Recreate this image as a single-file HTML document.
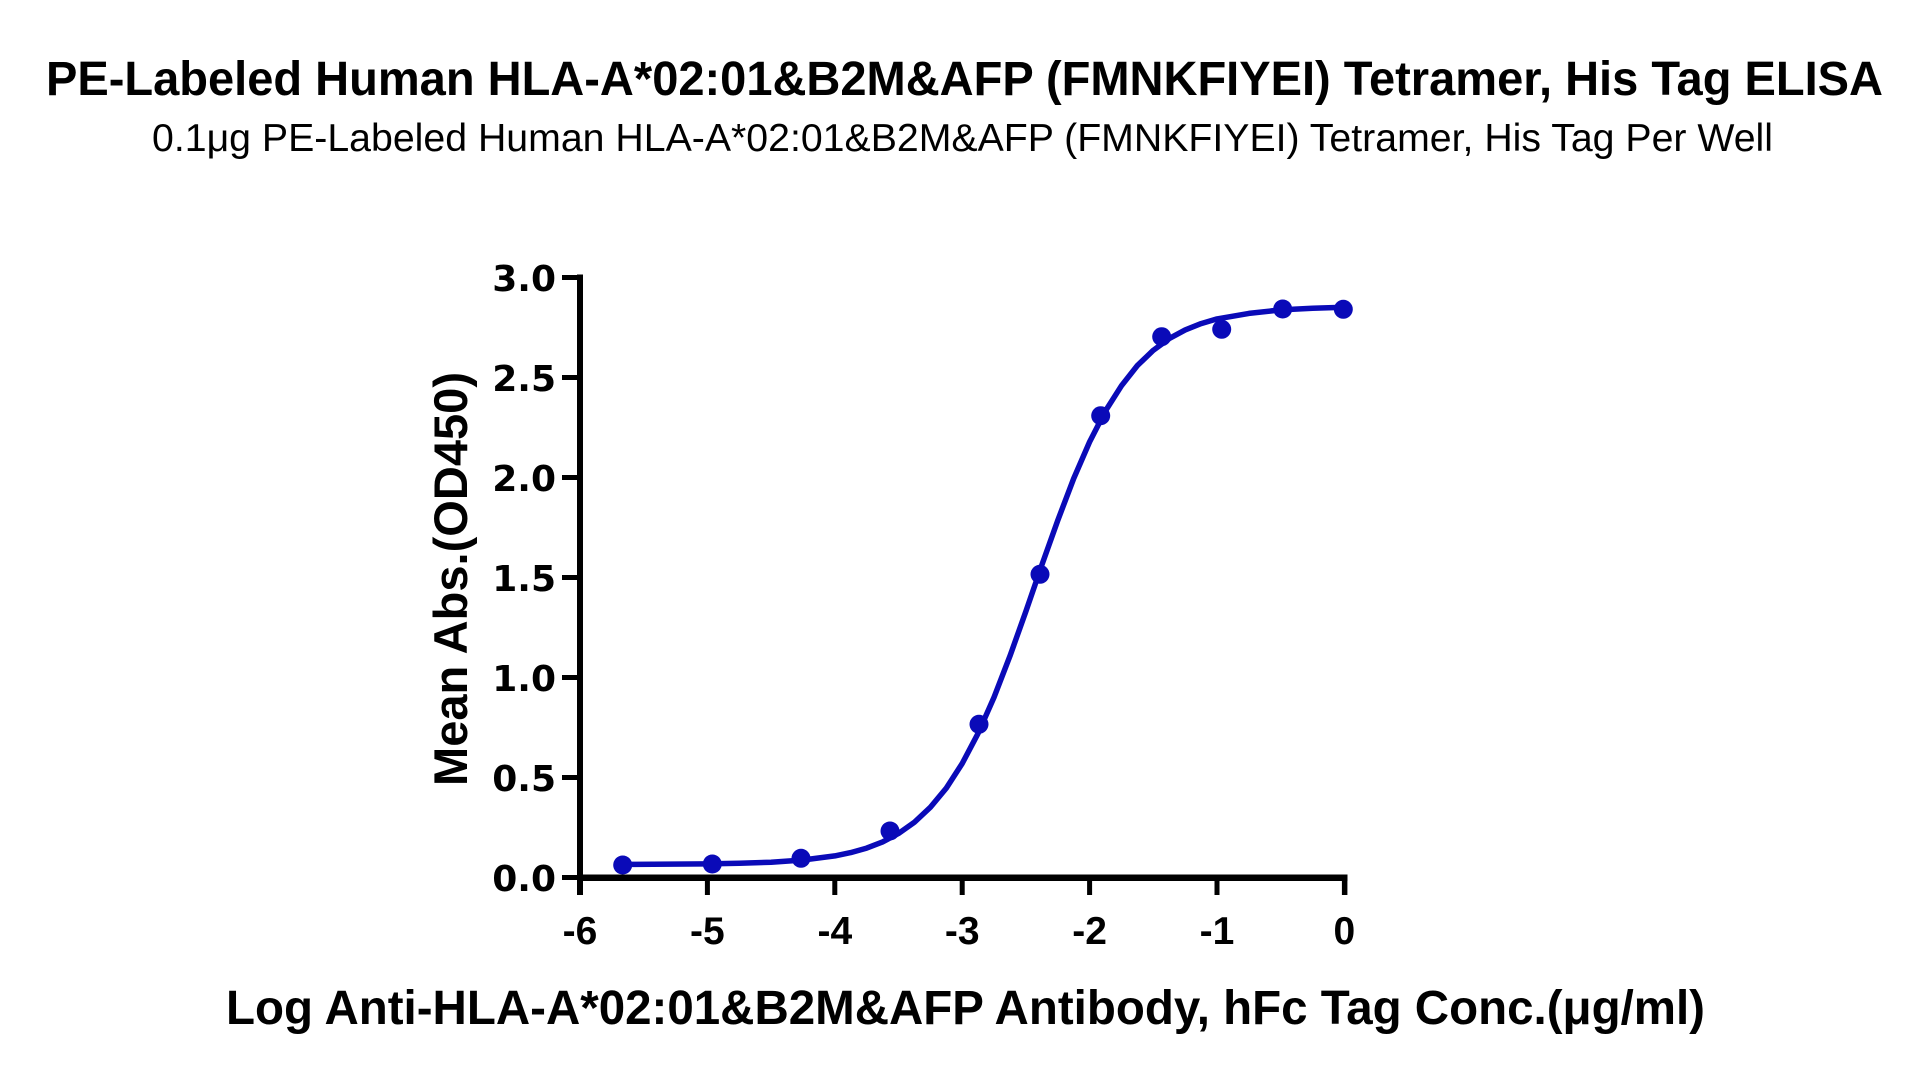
<!DOCTYPE html>
<html>
<head>
<meta charset="utf-8">
<style>
  html, body { margin: 0; padding: 0; background: #ffffff; }
  body { width: 1922px; height: 1077px; overflow: hidden; }
  svg { display: block; }
</style>
</head>
<body>
<svg width="1922" height="1077" viewBox="0 0 1922 1077" xmlns="http://www.w3.org/2000/svg">
  <rect x="0" y="0" width="1922" height="1077" fill="#ffffff"/>

  <!-- Title -->
  <text x="46" y="95" font-family="Liberation Sans, sans-serif" font-weight="bold" font-size="48" fill="#000" textLength="1837" lengthAdjust="spacingAndGlyphs">PE-Labeled Human HLA-A*02:01&amp;B2M&amp;AFP (FMNKFIYEI) Tetramer, His Tag ELISA</text>
  <!-- Subtitle -->
  <text x="152" y="151" font-family="Liberation Sans, sans-serif" font-size="39" fill="#000" textLength="1621" lengthAdjust="spacingAndGlyphs">0.1μg PE-Labeled Human HLA-A*02:01&amp;B2M&amp;AFP (FMNKFIYEI) Tetramer, His Tag Per Well</text>

  <!-- Y axis label -->
  <text transform="translate(467,579) rotate(-90)" x="0" y="0" text-anchor="middle" font-family="Liberation Sans, sans-serif" font-weight="bold" font-size="47" fill="#000" textLength="414" lengthAdjust="spacingAndGlyphs">Mean Abs.(OD450)</text>

  <!-- X axis label -->
  <text x="226" y="1024" font-family="Liberation Sans, sans-serif" font-weight="bold" font-size="48" fill="#000" textLength="1479" lengthAdjust="spacingAndGlyphs">Log Anti-HLA-A*02:01&amp;B2M&amp;AFP Antibody, hFc Tag Conc.(μg/ml)</text>

  <!-- Axes -->
  <g fill="#000">
    <rect x="577" y="274.5" width="6" height="620.5"/>
    <rect x="577" y="874.5" width="770.5" height="6.5"/>
    <rect x="562" y="275" width="18" height="5"/>
    <rect x="562" y="375" width="18" height="5"/>
    <rect x="562" y="475" width="18" height="5"/>
    <rect x="562" y="575" width="18" height="5"/>
    <rect x="562" y="675" width="18" height="5"/>
    <rect x="562" y="775" width="18" height="5"/>
    <rect x="562" y="875" width="18" height="5"/>
    <rect x="704.9" y="877" width="5" height="18"/>
    <rect x="832.3" y="877" width="5" height="18"/>
    <rect x="959.7" y="877" width="5" height="18"/>
    <rect x="1087.1" y="877" width="5" height="18"/>
    <rect x="1214.5" y="877" width="5" height="18"/>
    <rect x="1341.9" y="877" width="5.5" height="18"/>
  </g>

  <!-- Y tick labels -->
  <g font-family="DejaVu Sans, sans-serif" font-weight="bold" font-size="36" fill="#000" text-anchor="end">
    <text x="556" y="291">3.0</text>
    <text x="556" y="391">2.5</text>
    <text x="556" y="491">2.0</text>
    <text x="556" y="591">1.5</text>
    <text x="556" y="691">1.0</text>
    <text x="556" y="791">0.5</text>
    <text x="556" y="891">0.0</text>
  </g>

  <!-- X tick labels -->
  <g font-family="Liberation Sans, sans-serif" font-weight="bold" font-size="39" fill="#000" text-anchor="middle">
    <text x="580" y="944">-6</text>
    <text x="707.4" y="944">-5</text>
    <text x="834.8" y="944">-4</text>
    <text x="962.2" y="944">-3</text>
    <text x="1089.6" y="944">-2</text>
    <text x="1217" y="944">-1</text>
    <text x="1344.4" y="944">0</text>
  </g>

  <!-- Fitted curve -->
  <polyline fill="none" stroke="#0a0ab8" stroke-width="5.5" stroke-linejoin="round" stroke-linecap="round"
    points="623.4,864.4 707.4,863.9 739.3,863.3 771.1,862.2 803.0,860.0 834.8,855.9 850.7,852.6 866.7,848.1 882.6,841.9 898.5,833.5 914.4,822.3 930.4,807.3 946.3,788.1 962.2,763.5 978.1,733.3 994.1,697.1 1010.0,655.9 1025.9,611.3 1041.8,565.1 1057.8,520.3 1073.7,478.5 1089.6,441.9 1105.5,410.9 1121.5,385.7 1137.4,365.5 1153.3,350.3 1169.2,338.6 1185.2,329.9 1201.1,323.6 1217.0,318.9 1248.9,313.4 1280.7,309.9 1312.6,308.2 1344.4,307.3"/>

  <!-- Data points -->
  <g fill="#0a0ab8">
    <circle cx="622.7" cy="865" r="9.5"/>
    <circle cx="712.3" cy="864" r="9.5"/>
    <circle cx="801" cy="858.3" r="9.5"/>
    <circle cx="890" cy="831" r="9.5"/>
    <circle cx="979" cy="724.3" r="9.5"/>
    <circle cx="1040" cy="574.3" r="9.5"/>
    <circle cx="1100.7" cy="415.7" r="9.5"/>
    <circle cx="1161.7" cy="336.7" r="9.5"/>
    <circle cx="1221.7" cy="329.3" r="9.5"/>
    <circle cx="1282.7" cy="309" r="9.5"/>
    <circle cx="1343.3" cy="309.3" r="9.5"/>
  </g>
</svg>
</body>
</html>
